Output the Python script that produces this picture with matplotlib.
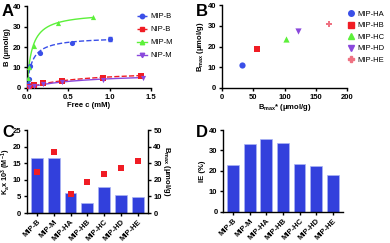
import numpy as np
import matplotlib
matplotlib.use("Agg")
import matplotlib.pyplot as plt

plt.rcParams['font.family'] = ['Liberation Sans', 'DejaVu Sans']
plt.rcParams['font.weight'] = 'bold'
plt.rcParams['axes.labelweight'] = 'bold'
plt.rcParams['mathtext.fontset'] = 'custom'
plt.rcParams['mathtext.rm'] = 'Liberation Sans:bold'
plt.rcParams['mathtext.it'] = 'Liberation Sans:bold'
plt.rcParams['mathtext.bf'] = 'Liberation Sans:bold'
plt.rcParams['mathtext.default'] = 'regular'

# Panel A data
mipb_c = [0.01, 0.02, 0.04, 0.16, 0.55, 1.0]
mipb_b = [2.0, 4.5, 10.5, 17.0, 22.0, 24.0]
mipb_err = [0, 0, 0, 0, 0, 1.0]
nipb_c = [0.03, 0.08, 0.20, 0.43, 0.92, 1.38]
nipb_b = [0.5, 1.3, 2.5, 3.5, 4.8, 6.0]
mipm_c = [0.01, 0.02, 0.08, 0.37, 0.80]
mipm_b = [5.0, 10.0, 20.5, 31.5, 34.5]
nipm_c = [0.03, 0.08, 0.20, 0.43, 0.92, 1.40]
nipm_b = [0.4, 1.0, 2.0, 3.0, 4.0, 5.0]
# Langmuir fit parameters (Bmax umol/g, K mM^-1, c range)
fit_params = {'MIP-B': (25.0, 16.5, 1.0), 'NIP-B': (9.0, 1.5, 1.4),
              'MIP-M': (37.0, 16.7, 0.8), 'NIP-M': (7.5, 1.5, 1.4)}

# Panel B data
b_labels = ['MIP-HA', 'MIP-HB', 'MIP-HC', 'MIP-HD', 'MIP-HE']
bmax_star = [32, 56, 102, 121, 171]
bmax_b = [11.3, 18.7, 23.5, 27.5, 31.0]

# Panel C / D data
cats = ['MIP-B', 'MIP-M', 'MIP-HA', 'MIP-HB', 'MIP-HC', 'MIP-HD', 'MIP-HE']
ka = [16.5, 16.7, 6.0, 3.0, 7.8, 5.5, 4.8]
bmax_c = [25.0, 37.0, 11.3, 18.7, 23.7, 27.3, 31.2]
ie = [22.8, 33.0, 35.5, 33.5, 23.2, 22.5, 18.2]

BLUE = '#3a4fe8'
RED = '#f01c24'
GREEN = '#5cf03a'
PURPLE = '#8a48dc'
PINK = '#ef7282'
BAR = '#3240dc'

FS = 5.5
LFS = 5.5
W, H = 390.0, 243.0
fig = plt.figure(figsize=(3.9, 2.43), dpi=100)

def style(ax):
    for s in ['top', 'right']:
        ax.spines[s].set_visible(False)
    for s in ['left', 'bottom', 'right']:
        ax.spines[s].set_linewidth(1.0)
    ax.tick_params(labelsize=FS, width=1.0, length=2.5, pad=1.5)
    for t in ax.get_xticklabels() + ax.get_yticklabels():
        t.set_fontweight('bold')

# Panel A
axA = fig.add_axes([0.069, 0.638, 0.318, 0.337])
series = [('MIP-B', mipb_c, mipb_b, BLUE, 'o', '--'),
          ('NIP-B', nipb_c, nipb_b, RED, 's', '--'),
          ('MIP-M', mipm_c, mipm_b, GREEN, '^', '-'),
          ('NIP-M', nipm_c, nipm_b, PURPLE, 'v', '-')]
handles = []
for name, c, b, col, m, ls in series:
    bm, k, cmax = fit_params[name]
    cc = np.linspace(0, cmax, 200)
    axA.plot(cc, bm * k * cc / (1 + k * cc), ls=ls, color=col, lw=1.0, zorder=2)
    axA.scatter(c, b, marker=m, s=14, color=col, zorder=3, linewidths=0)
    h, = axA.plot([], [], ls=ls, color=col, marker=m, ms=3.2, lw=1.0, label=name)
    handles.append(h)
axA.errorbar(mipb_c, mipb_b, yerr=mipb_err, fmt='none', ecolor=BLUE, elinewidth=0.8, capsize=1.5)
axA.set_xlim(0, 1.5)
axA.set_ylim(0, 40)
axA.set_xticks([0.0, 0.5, 1.0, 1.5])
axA.set_yticks([0, 10, 20, 30, 40])
axA.set_xlabel('Free c (mM)', fontsize=FS, labelpad=1)
axA.set_ylabel('B (\u03bcmol/g)', fontsize=FS, labelpad=1)
style(axA)
fig.legend(handles=handles, loc='upper left', bbox_to_anchor=(130 / W, 1 - 6 / H), frameon=False,
           handlelength=1.3, labelspacing=0.75, handletextpad=0.5,
           prop={'size': LFS, 'weight': 'normal'})
fig.text(0.005, 0.985, 'A', fontsize=12, fontweight='bold', va='top')

# Panel B
axB = fig.add_axes([0.569, 0.638, 0.321, 0.341])
b_cols = [BLUE, RED, GREEN, PURPLE, PINK]
b_marks = ['o', 's', '^', 'v', 'P']
bh = []
for lab, xx, yy, col, m in zip(b_labels, bmax_star, bmax_b, b_cols, b_marks):
    axB.scatter([xx], [yy], marker=m, s=20, color=col, linewidths=0, zorder=3)
    h, = axB.plot([], [], ls='none', marker=m, ms=4, color=col, label=lab)
    bh.append(h)
axB.set_xlim(0, 200)
axB.set_ylim(0, 40)
axB.set_xticks([0, 50, 100, 150, 200])
axB.set_yticks([0, 10, 20, 30, 40])
axB.set_xlabel('B$_{max}$* (\u03bcmol/g)', fontsize=FS, labelpad=1)
axB.set_ylabel('B$_{max}$ (\u03bcmol/g)', fontsize=FS, labelpad=1)
style(axB)
fig.legend(handles=bh, loc='upper left', bbox_to_anchor=(343 / W, 1 - 5 / H), frameon=False,
           handlelength=0.8, handletextpad=0.4, labelspacing=0.55, borderpad=0.2,
           prop={'size': LFS, 'weight': 'normal'})
fig.text(0.503, 0.985, 'B', fontsize=12, fontweight='bold', va='top')

# Panel C
axC = fig.add_axes([0.069, 0.123, 0.31, 0.342])
x = np.arange(len(cats))
axC.bar(x, ka, width=0.7, color=BAR, edgecolor='#aab4f4', linewidth=0.5)
axC.set_xlim(-0.6, len(cats) - 0.4)
axC.set_ylim(0, 25)
axC.set_yticks([0, 5, 10, 15, 20, 25])
axC.set_xticks(x)
axC.set_xticklabels(cats, rotation=45, ha='right', rotation_mode='anchor')
axC.set_ylabel('K$_a$x 10$^3$ (M$^{-1}$)', fontsize=FS - 0.3)
axC.yaxis.set_label_coords(-0.115, 0.5)
style(axC)
axC2 = axC.twinx()
axC2.scatter(x, bmax_c, marker='s', s=20, color=RED, linewidths=0, zorder=3)
axC2.set_ylim(0, 50)
axC2.set_yticks([0, 10, 20, 30, 40, 50])
axC2.set_ylabel('B$_{max}$ (\u03bcmol/g)', fontsize=FS, rotation=270, labelpad=7)
for s in ['top', 'left']:
    axC2.spines[s].set_visible(False)
axC2.spines['right'].set_linewidth(1.0)
axC2.tick_params(labelsize=FS, width=1.0, length=2.5, pad=1.5)
for t in axC2.get_yticklabels():
    t.set_fontweight('bold')
fig.text(0.005, 0.485, 'C', fontsize=12, fontweight='bold', va='top')

# Panel D
axD = fig.add_axes([0.572, 0.128, 0.307, 0.337])
axD.bar(x, ie, width=0.7, color=BAR, edgecolor='#aab4f4', linewidth=0.5)
axD.set_xlim(-0.6, len(cats) - 0.4)
axD.set_ylim(0, 40)
axD.set_yticks([0, 10, 20, 30, 40])
axD.set_xticks(x)
axD.set_xticklabels(cats, rotation=45, ha='right', rotation_mode='anchor')
axD.set_ylabel('IE (%)', fontsize=FS, labelpad=2)
style(axD)
fig.text(0.503, 0.485, 'D', fontsize=12, fontweight='bold', va='top')

fig.savefig('out.png', dpi=100)
